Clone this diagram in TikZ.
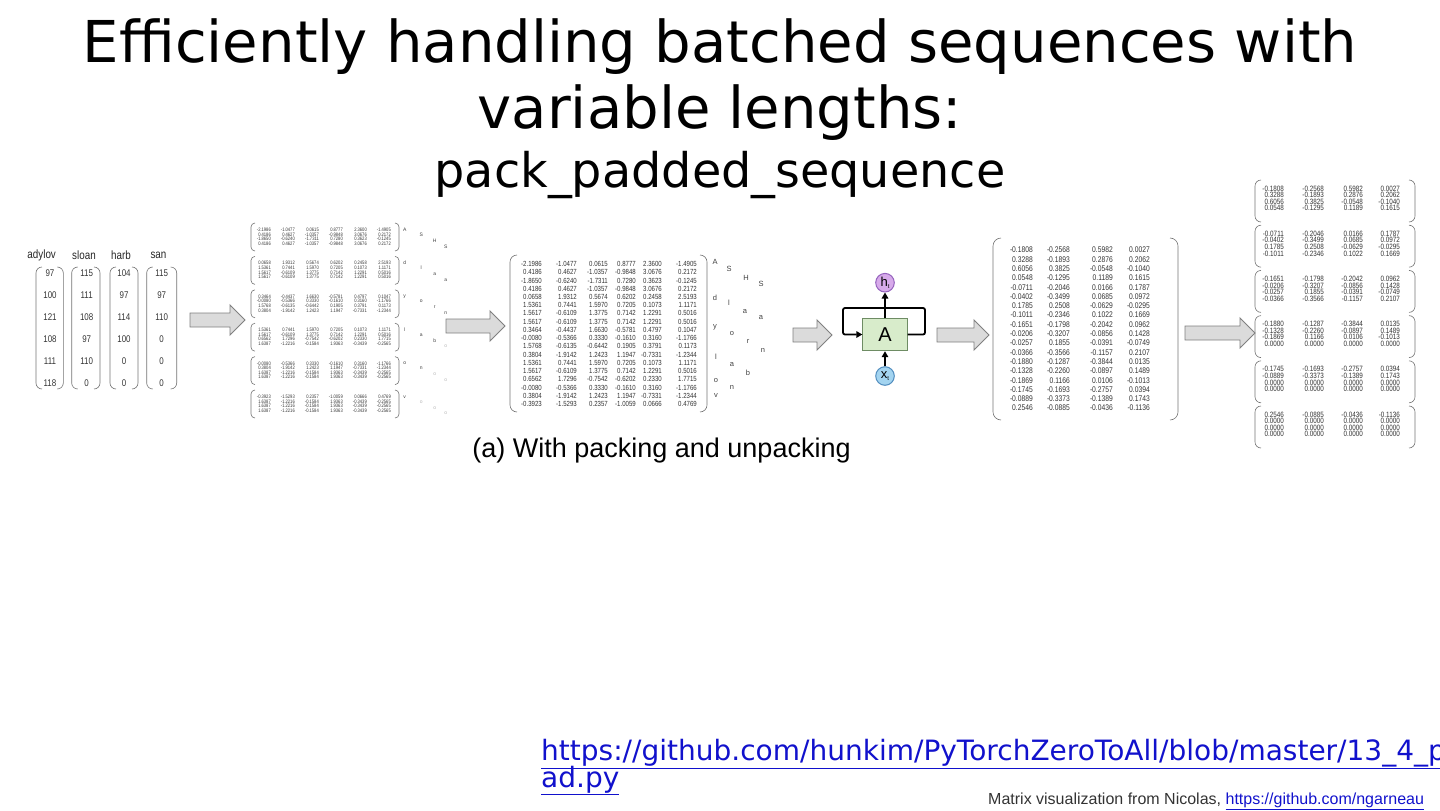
\documentclass[tikz,border=0pt]{standalone}
\usepackage{fontspec}
\setmainfont{DejaVu Sans}
\newfontfamily\lib{Liberation Sans}
\newfontfamily\nar[FakeStretch=0.82]{Liberation Sans}
\usetikzlibrary{arrows.meta,calc}
\definecolor{linkblue}{RGB}{17,17,204}
\definecolor{hfill}{RGB}{215,170,234}
\definecolor{hbord}{RGB}{150,100,190}
\definecolor{Afill}{RGB}{216,236,203}
\definecolor{Abord}{RGB}{110,140,100}
\definecolor{xfill}{RGB}{163,212,240}
\definecolor{xbord}{RGB}{80,140,190}
\newcommand\pd{\textcolor{black!28}{o}}
\newcommand\mparen[5]{%
  \draw[brk,rounded corners=#5pt] ({#1+#5},#2) -- (#1,#2) -- (#1,#4) -- ({#1+#5},#4);
  \draw[brk,rounded corners=#5pt] ({#3-#5},#2) -- (#3,#2) -- (#3,#4) -- ({#3-#5},#4);}
\newcommand\barrow[3]{%
  \draw[barrowsty] (#1,{#3-7}) -- ({#2-15},{#3-7}) -- ({#2-15},{#3-15}) -- (#2,#3)
    -- ({#2-15},{#3+15}) -- ({#2-15},{#3+7}) -- (#1,{#3+7}) -- cycle;}
\begin{document}
\begin{tikzpicture}[x=1pt,y=-1pt,
  num/.style={inner sep=0,anchor=east,text=black!80},
  n2/.style={num,font=\nar\fontsize{5}{5}\selectfont},
  n3/.style={num,font=\nar\fontsize{7.4}{7.4}\selectfont},
  n4/.style={num,font=\nar\fontsize{8.2}{8.2}\selectfont},
  n5/.style={num,font=\nar\fontsize{7.7}{7.7}\selectfont},
  lnum/.style={inner sep=0,font=\nar\fontsize{9.7}{9.7}\selectfont,text=black!80},
  lbl/.style={inner sep=0,font=\nar\fontsize{12}{12}\selectfont,text=black!85},
  l2/.style={inner sep=0,font=\lib\fontsize{5}{5}\selectfont,text=black!75},
  l3/.style={inner sep=0,font=\lib\fontsize{7.5}{7.5}\selectfont,text=black!75},
  brk/.style={draw=black!55,line width=0.6},
  barrowsty/.style={draw=black!50,fill=black!14,line width=0.9},
  rnnarrow/.style={line width=1.8,-{Triangle[length=6pt,width=6.5pt]}},
]
\useasboundingbox (0,0) rectangle (1440,811);
\clip (0,0) rectangle (1440,811);

% ---------- titles
\node[anchor=base,font=\fontsize{57.7}{60}\selectfont] (t1) at (720,62) {Efficiently handling batched sequences with};
\node[anchor=base,font=\fontsize{57.7}{60}\selectfont] (t2) at (720,128) {variable lengths:};
\node[anchor=base,font=\fontsize{47.7}{50}\selectfont] (t3) at (720,187) {pack\_padded\_sequence};

% ---------- left panel: raw sequences
\foreach \t/\x in {adylov/41.7,sloan/84,harb/121,san/158.5}
  \node[lbl,name=lab-\t] at (\x,255) {\t};
\foreach \a/\b in {36/63.3,71.7/100,110/138,146.7/176.7} {\mparen{\a}{267}{\b}{389}{6}}
\foreach \col [count=\j from 0] in {{97,100,121,108,111,118},{115,111,108,97,110,0},{104,97,114,100,0,0},{115,97,110,0,0,0}} {
  \pgfmathsetmacro\cx{{50,86.7,124,161.7}[\j]}
  \foreach \v [count=\i from 0] in \col {
    \node[lnum,name=L\j-\i] at (\cx,{273.3+22*\i}) {\v};
  }
}

% ---------- panel 2: embedded, per time step
\foreach \blk [count=\k from 0] in {
 {{-2.1986,-1.0477,0.0615,0.8777,2.3600,-1.4905},{0.4186,0.4627,-1.0357,-0.9848,3.0676,0.2172},{-1.8650,-0.6240,-1.7311,0.7280,0.3623,-0.1245},{0.4186,0.4627,-1.0357,-0.9848,3.0676,0.2172}},
 {{0.0658,1.9312,0.5674,0.6202,0.2458,2.5193},{1.5361,0.7441,1.5970,0.7205,0.1073,1.1171},{1.5617,-0.6109,1.3775,0.7142,1.2291,0.5016},{1.5617,-0.6109,1.3775,0.7142,1.2291,0.5016}},
 {{0.3464,-0.4437,1.6630,-0.5781,0.4797,0.1047},{-0.0080,-0.5366,0.3330,-0.1610,0.3160,-1.1766},{1.5768,-0.6135,-0.6442,0.1905,0.3791,0.1173},{0.3804,-1.9142,1.2423,1.1947,-0.7331,-1.2344}},
 {{1.5361,0.7441,1.5970,0.7205,0.1073,1.1171},{1.5617,-0.6109,1.3775,0.7142,1.2291,0.5016},{0.6562,1.7296,-0.7542,-0.6202,0.2330,1.7715},{1.6387,-1.2216,-0.1584,1.9363,-0.3439,-0.2565}},
 {{-0.0080,-0.5366,0.3330,-0.1610,0.3160,-1.1766},{0.3804,-1.9142,1.2423,1.1947,-0.7331,-1.2344},{1.6387,-1.2216,-0.1584,1.9363,-0.3439,-0.2565},{1.6387,-1.2216,-0.1584,1.9363,-0.3439,-0.2565}},
 {{-0.3923,-1.5293,0.2357,-1.0059,0.0666,0.4769},{1.6387,-1.2216,-0.1584,1.9363,-0.3439,-0.2565},{1.6387,-1.2216,-0.1584,1.9363,-0.3439,-0.2565},{1.6387,-1.2216,-0.1584,1.9363,-0.3439,-0.2565}}} {
  \pgfmathsetmacro\btop{223+33.4*\k}
  \pgfmathsetmacro\bbot{\btop+28}
  \mparen{251}{\btop}{399}{\bbot}{4}
  \foreach \row [count=\i from 0] in \blk {
    \foreach \v [count=\j from 0] in \row {
      \node[n2,name=p\k-\i-\j] at ({271+24*\j},{\btop+13.7+(\i-1.5)*4.6}) {\v};
    }
  }
}
\foreach \lets [count=\k from 0] in {{A,S,H,S},{d,l,a,a},{y,o,r,n},{l,a,b,\pd},{o,n,\pd,\pd},{v,\pd,\pd,\pd}} {
  \foreach \c [count=\i from 0] in \lets {
    \pgfmathsetmacro\lx{{404.7,421.3,434.7,445.7}[\i]}
    \pgfmathsetmacro\ly{223+33.4*\k+{6.7,11.7,17.7,23.3}[\i]}
    \node[l2,name=q\k-\i] at (\lx,\ly) {\c};
  }
}

% ---------- panel 3: packed data
\mparen{510}{255}{707}{412}{7}
\foreach \row [count=\i from 0] in {
 {-2.1986,-1.0477,0.0615,0.8777,2.3600,-1.4905},
 {0.4186,0.4627,-1.0357,-0.9848,3.0676,0.2172},
 {-1.8650,-0.6240,-1.7311,0.7280,0.3623,-0.1245},
 {0.4186,0.4627,-1.0357,-0.9848,3.0676,0.2172},
 {0.0658,1.9312,0.5674,0.6202,0.2458,2.5193},
 {1.5361,0.7441,1.5970,0.7205,0.1073,1.1171},
 {1.5617,-0.6109,1.3775,0.7142,1.2291,0.5016},
 {1.5617,-0.6109,1.3775,0.7142,1.2291,0.5016},
 {0.3464,-0.4437,1.6630,-0.5781,0.4797,0.1047},
 {-0.0080,-0.5366,0.3330,-0.1610,0.3160,-1.1766},
 {1.5768,-0.6135,-0.6442,0.1905,0.3791,0.1173},
 {0.3804,-1.9142,1.2423,1.1947,-0.7331,-1.2344},
 {1.5361,0.7441,1.5970,0.7205,0.1073,1.1171},
 {1.5617,-0.6109,1.3775,0.7142,1.2291,0.5016},
 {0.6562,1.7296,-0.7542,-0.6202,0.2330,1.7715},
 {-0.0080,-0.5366,0.3330,-0.1610,0.3160,-1.1766},
 {0.3804,-1.9142,1.2423,1.1947,-0.7331,-1.2344},
 {-0.3923,-1.5293,0.2357,-1.0059,0.0666,0.4769}} {
  \foreach \v [count=\j from 0] in \row {
    \pgfmathsetmacro\cx{{542,577,608,636,662,697}[\j]}
    \node[n3,name=r\i-\j] at (\cx,{264+8.24*\i}) {\v};
  }
}
\foreach \c/\x/\y [count=\i] in {A/715/262,S/729/269,H/746/278,S/761/284,d/715/298,l/729/303,a/745/312,a/761/318,y/715/327,o/732/334,r/748/341,n/763/350,l/716/357,a/732/365,b/748/373,o/716/381,n/732/387,v/716/396}
  \node[l3,name=s\i] at (\x,\y) {\c};

% ---------- RNN cell
\node[circle,draw=hbord,fill=hfill,line width=1,minimum size=18.6,inner sep=0] (h) at (885,282.7)
  {\lib\fontsize{13}{13}\selectfont h\raisebox{-1.5pt}{\fontsize{6}{6}\selectfont t}};
\node[draw=Abord,fill=Afill,line width=1,minimum width=44.3,minimum height=32.4,inner sep=0] (A) at (885,334.5)
  {\lib\fontsize{20}{20}\selectfont A};
\node[circle,draw=xbord,fill=xfill,line width=1,minimum size=18.6,inner sep=0] (xt) at (885,376)
  {\lib\fontsize{13}{13}\selectfont x\raisebox{-1.5pt}{\fontsize{6}{6}\selectfont t}};
\draw[rnnarrow] (xt) -- (A);
\draw[rnnarrow] (A) -- (h);
\coordinate (lr) at (925,308);
\coordinate (ll) at (843,308);
\draw[rnnarrow,rounded corners=2pt] (A.east) -| (lr) -- (ll) |- (A.west);

% ---------- panel 4: output
\mparen{993}{238}{1178}{420}{8}
\foreach \row [count=\i from 0] in {
 {-0.1808,-0.2568,0.5982,0.0027},
 {0.3288,-0.1893,0.2876,0.2062},
 {0.6056,0.3825,-0.0548,-0.1040},
 {0.0548,-0.1295,0.1189,0.1615},
 {-0.0711,-0.2046,0.0166,0.1787},
 {-0.0402,-0.3499,0.0685,0.0972},
 {0.1785,0.2508,-0.0629,-0.0295},
 {-0.1011,-0.2346,0.1022,0.1669},
 {-0.1651,-0.1798,-0.2042,0.0962},
 {-0.0206,-0.3207,-0.0856,0.1428},
 {-0.0257,0.1855,-0.0391,-0.0749},
 {-0.0366,-0.3566,-0.1157,0.2107},
 {-0.1880,-0.1287,-0.3844,0.0135},
 {-0.1328,-0.2260,-0.0897,0.1489},
 {-0.1869,0.1166,0.0106,-0.1013},
 {-0.1745,-0.1693,-0.2757,0.0394},
 {-0.0889,-0.3373,-0.1389,0.1743},
 {0.2546,-0.0885,-0.0436,-0.1136}} {
  \foreach \v [count=\j from 0] in \row {
    \pgfmathsetmacro\cx{{1033,1070,1113,1150}[\j]}
    \node[n4,name=o\i-\j] at (\cx,{250+9.3*\i}) {\v};
  }
}

% ---------- panel 5: unpacked, padded
\foreach \blk [count=\k from 0] in {
 {{-0.1808,-0.2568,0.5982,0.0027},{0.3288,-0.1893,0.2876,0.2062},{0.6056,0.3825,-0.0548,-0.1040},{0.0548,-0.1295,0.1189,0.1615}},
 {{-0.0711,-0.2046,0.0166,0.1787},{-0.0402,-0.3499,0.0685,0.0972},{0.1785,0.2508,-0.0629,-0.0295},{-0.1011,-0.2346,0.1022,0.1669}},
 {{-0.1651,-0.1798,-0.2042,0.0962},{-0.0206,-0.3207,-0.0856,0.1428},{-0.0257,0.1855,-0.0391,-0.0749},{-0.0366,-0.3566,-0.1157,0.2107}},
 {{-0.1880,-0.1287,-0.3844,0.0135},{-0.1328,-0.2260,-0.0897,0.1489},{-0.1869,0.1166,0.0106,-0.1013},{0.0000,0.0000,0.0000,0.0000}},
 {{-0.1745,-0.1693,-0.2757,0.0394},{-0.0889,-0.3373,-0.1389,0.1743},{0.0000,0.0000,0.0000,0.0000},{0.0000,0.0000,0.0000,0.0000}},
 {{0.2546,-0.0885,-0.0436,-0.1136},{0.0000,0.0000,0.0000,0.0000},{0.0000,0.0000,0.0000,0.0000},{0.0000,0.0000,0.0000,0.0000}}} {
  \pgfmathsetmacro\btop{180+45.2*\k}
  \pgfmathsetmacro\bbot{\btop+42}
  \mparen{1255}{\btop}{1415}{\bbot}{6}
  \foreach \row [count=\i from 0] in \blk {
    \foreach \v [count=\j from 0] in \row {
      \pgfmathsetmacro\cx{{1284,1324,1363,1400}[\j]}
      \node[n5,name=u\k-\i-\j] at (\cx,{\btop+8.5+6.6*\i}) {\v};
    }
  }
}

% ---------- block arrows
\barrow{190}{245}{320}
\barrow{446}{505}{326}
\barrow{793}{832}{335}
\barrow{937}{989}{335}
\barrow{1185}{1255}{333}

% ---------- captions and links
\node[anchor=base,inner sep=0,font=\lib\fontsize{27}{27}\selectfont] (cap) at (661.5,457) {(a) With packing and unpacking};
\node[anchor=base west,inner sep=0,text=linkblue,font=\fontsize{28}{28}\selectfont] (link1) at (541,760)
  {\underline{https://github.com/hunkim/PyTorchZeroToAll/blob/master/13\_4\_pack\_p}};
\node[anchor=base west,inner sep=0,text=linkblue,font=\fontsize{28}{28}\selectfont] (link2) at (541,787)
  {\underline{ad.py}};
\node[anchor=base west,inner sep=0,text=black!80,font=\lib\fontsize{16}{16}\selectfont] (credit) at (988,804)
  {Matrix visualization from Nicolas, \textcolor{linkblue}{\underline{https://github.com/ngarneau}}};
\end{tikzpicture}
\end{document}
